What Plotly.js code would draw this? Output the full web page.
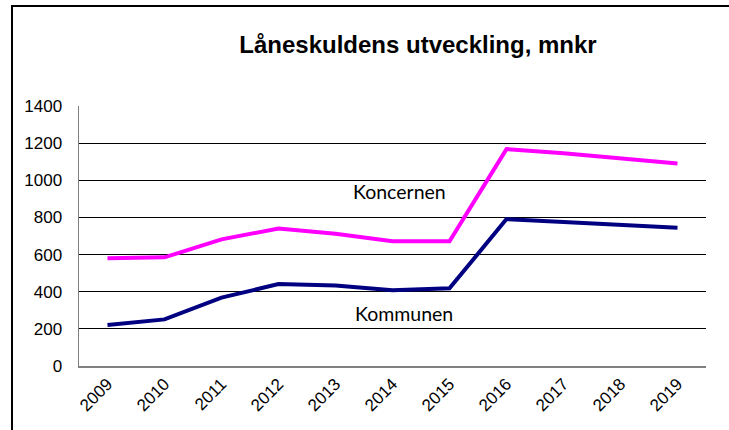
<!DOCTYPE html>
<html>
<head>
<meta charset="utf-8">
<script src="https://cdn.plot.ly/plotly-3.0.1.min.js"></script>
<style>
html,body{margin:0;padding:0;background:#fff;overflow:hidden;}
#wrap{position:relative;width:729px;height:430px;overflow:hidden;}
#chart{width:729px;height:430px;}
#frame{position:absolute;left:11px;top:5px;width:800px;height:500px;border-left:2px solid #000;border-top:2px solid #000;pointer-events:none;}
</style>
</head>
<body>
<div id="wrap"><div id="chart"></div><div id="frame"></div></div>
<script>
var years = ["2009","2010","2011","2012","2013","2014","2015","2016","2017","2018","2019"];
var koncernen = [580, 585, 682, 740, 712, 672, 672, 1168, 1145, 1120, 1091];
var kommunen = [221, 251, 368, 441, 434, 408, 418, 791, 775, 762, 745];
var yTicks = [0, 200, 400, 600, 800, 1000, 1200, 1400];

var traces = [
  {x: years, y: koncernen, name: "Koncernen", type: "scatter", mode: "lines",
   line: {color: "#FF00FF", width: 4}},
  {x: years, y: kommunen, name: "Kommunen", type: "scatter", mode: "lines",
   line: {color: "#000080", width: 4}}
];

var layout = {
  width: 729, height: 430,
  margin: {l: 79, r: 23, t: 106, b: 64, pad: 0},
  paper_bgcolor: "#fff", plot_bgcolor: "#fff",
  showlegend: false,
  title: {text: "<b>Låneskuldens utveckling, mnkr</b>", x: 418/729, xanchor: "center",
          y: 1 - 45/430, yanchor: "middle",
          font: {family: "Liberation Sans, Arial, sans-serif", size: 24, color: "#000"}},
  xaxis: {type: "category", range: [-0.5, 10.5], tickangle: -45,
          showgrid: false, zeroline: false, showline: true, linecolor: "#808080", linewidth: 1.5,
          ticks: "", tickfont: {family: "Liberation Sans, Arial, sans-serif", size: 17, color: "#000"},
          fixedrange: true},
  yaxis: {range: [0, 1400], tickvals: yTicks, ticktext: yTicks.map(String),
          showgrid: true, gridcolor: "#000", gridwidth: 1, zeroline: false,
          showline: true, linecolor: "#808080", linewidth: 1.5, ticks: "",
          ticklabelstandoff: 12,
          tickfont: {family: "Liberation Sans, Arial, sans-serif", size: 17, color: "#000"},
          fixedrange: true},
  annotations: [
    {text: "Koncernen", x: 5.13, y: 940, xref: "x", yref: "y", showarrow: false,
     font: {family: "Lato, sans-serif", size: 19.5, color: "#000"}},
    {text: "Kommunen", x: 5.2, y: 285, xref: "x", yref: "y", showarrow: false,
     font: {family: "Lato, sans-serif", size: 19.5, color: "#000"}}
  ]
};

Plotly.newPlot("chart", traces, layout, {displayModeBar: false, staticPlot: true});
</script>
</body>
</html>
